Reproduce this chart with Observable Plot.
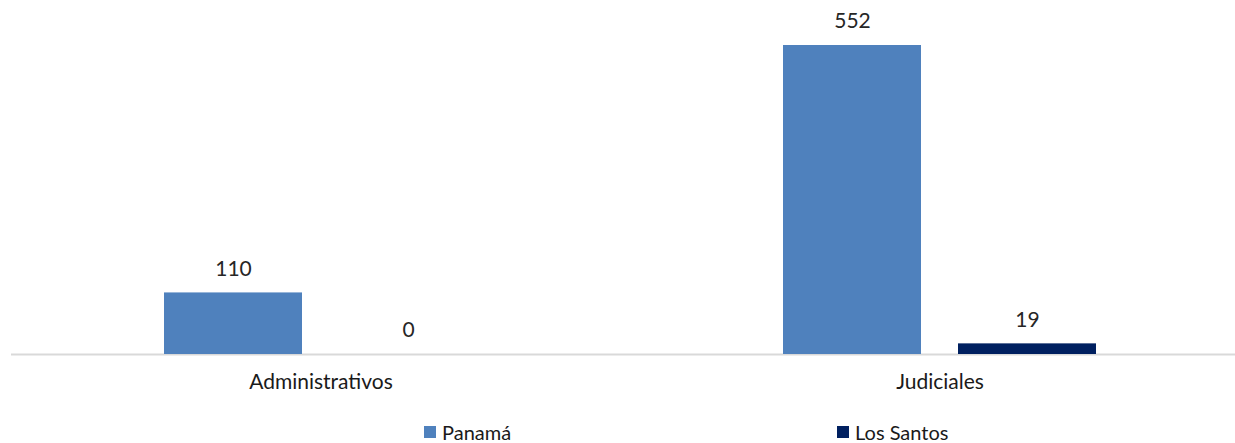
<!DOCTYPE html>
<html><head><meta charset="utf-8">
<script src="https://cdn.jsdelivr.net/npm/d3@7"></script>
<script src="https://cdn.jsdelivr.net/npm/@observablehq/plot@0.6"></script>
<style>
body{margin:0;background:#fff;font-family:Lato,sans-serif;}
#chart{position:relative;width:1235px;height:443px;overflow:hidden;background:#fff}
.item{position:absolute;top:422px;height:20px;line-height:20px;display:flex;align-items:center;font-size:20px;color:#1a1a1a;white-space:nowrap}
.sw{width:12px;height:12px;margin-right:6px;display:inline-block}
</style></head><body><div id="chart"></div>
<script>
const categories = ["Administrativos", "Judiciales"];
const series = ["Panamá", "Los Santos"];
const panama = [110, 552];
const losSantos = [0, 19];
const colors = ["#4f81bd", "#002060"];

const data = categories.flatMap((c, i) => [
  {category: c, series: series[0], value: panama[i]},
  {category: c, series: series[1], value: losSantos[i]}
]);

const plot = Plot.plot({
  width: 1235, height: 410,
  marginLeft: 11, marginRight: -14, marginTop: 45, marginBottom: 56,
  style: {fontFamily: "Lato, sans-serif", fontSize: "21px", background: "transparent", overflow: "hidden"},
  fx: {domain: categories, padding: 0, label: null},
  x: {domain: series, paddingInner: 0.21, paddingOuter: 0.865, axis: null},
  y: {domain: [0, 552], axis: null},
  color: {domain: series, range: colors},
  marks: [
    Plot.ruleY([0], {stroke: "#d9d9d9", strokeWidth: 2}),
    Plot.barY(data, {fx: "category", x: "series", y: "value", fill: "series", inset: 0}),
    Plot.text(data, {fx: "category", x: "series", y: "value", text: d => String(d.value), dy: -24, fill: "#262626", fontSize: 21}),
    Plot.axisFx({anchor: "bottom", tickSize: 0, tickPadding: 20, fontSize: 21, fill: "#1a1a1a", label: null})
  ]
});
const chart = document.getElementById("chart");
chart.appendChild(plot);

const legendPos = [424, 837];
series.forEach((s, i) => {
  const it = document.createElement("div");
  it.className = "item";
  it.style.left = legendPos[i] + "px";
  it.innerHTML = `<span class="sw" style="background:${colors[i]}"></span><span>${s}</span>`;
  chart.appendChild(it);
});
</script></body></html>
